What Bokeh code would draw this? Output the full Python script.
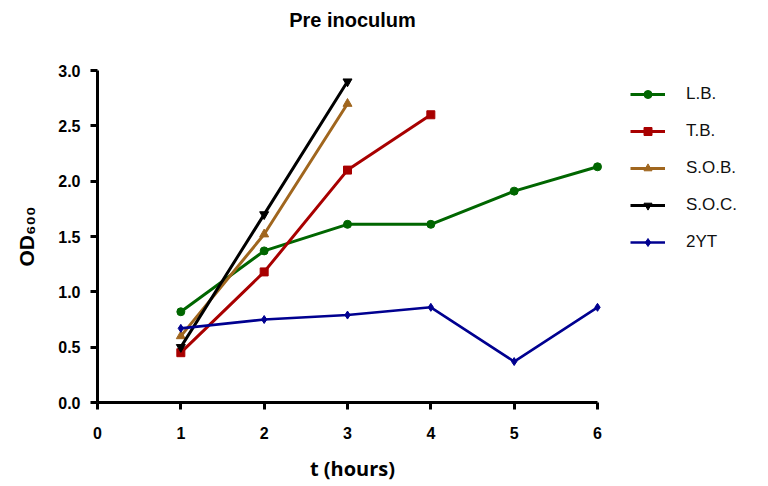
from bokeh.plotting import figure
from bokeh.models import Range1d, Legend, LegendItem, CustomJSTickFormatter, Title
from bokeh.embed import file_html
from bokeh.resources import INLINE

# Data
lb_x = [1, 2, 3, 4, 5, 6]
lb_y = [0.82, 1.37, 1.61, 1.61, 1.91, 2.13]
tb_x = [1, 2, 3, 4]
tb_y = [0.45, 1.18, 2.10, 2.60]
sob_x = [1, 2, 3]
sob_y = [0.60, 1.52, 2.70]
soc_x = [1, 2, 3]
soc_y = [0.50, 1.70, 2.90]
yt_x = [1, 2, 3, 4, 5, 6]
yt_y = [0.67, 0.75, 0.79, 0.86, 0.37, 0.86]
x_ticks = [0, 1, 2, 3, 4, 5, 6]
y_ticks = [0.0, 0.5, 1.0, 1.5, 2.0, 2.5, 3.0]

p = figure(frame_width=510, frame_height=332, output_backend="svg", toolbar_location=None,
           x_range=Range1d(0, 6.12), y_range=Range1d(0, 3.0),
           min_border_left=97, min_border_right=145, min_border_top=70, min_border_bottom=68,
           title="Pre inoculum")
p.outline_line_color = None
p.xgrid.visible = False
p.ygrid.visible = False
p.title.align = "center"
p.title.vertical_align = "middle"
p.title.text_font = "Liberation Sans"
p.title.text_font_size = "20px"
p.title.text_font_style = "bold"
p.title.text_color = "black"
p.title.offset = 0
p.title.standoff = 0

# empty spacer between title and plot area
spacer = Title(text=" ", text_font_size="19px", standoff=16)
p.above.insert(0, spacer)

for ax in (p.xaxis[0], p.yaxis[0]):
    ax.axis_line_width = 3
    ax.major_tick_line_width = 3
    ax.major_tick_out = 7
    ax.major_tick_in = 0
    ax.minor_tick_line_color = None
    ax.major_label_text_font = "Liberation Sans"
    ax.major_label_text_font_style = "bold"
    ax.major_label_text_font_size = "16px"
    ax.major_label_text_color = "black"
    ax.axis_line_color = "black"
    ax.major_tick_line_color = "black"
    ax.axis_label_text_color = "black"

p.xaxis.ticker = x_ticks
p.xaxis.bounds = (0, 6)
p.xaxis.major_label_standoff = 17
p.xaxis.axis_label = "t (hours)"
p.xaxis.axis_label_text_font = "Open Sans"
p.xaxis.axis_label_text_font_style = "bold"
p.xaxis.axis_label_text_font_size = "20px"
p.xaxis.axis_label_standoff = 13

p.yaxis.ticker = y_ticks
p.yaxis.formatter = CustomJSTickFormatter(code="return tick.toFixed(1);")
p.yaxis.major_label_standoff = 10
p.yaxis.axis_label = "OD₆₀₀"
p.yaxis.axis_label_text_font = "Liberation Sans"
p.yaxis.axis_label_text_font_style = "bold"
p.yaxis.axis_label_text_font_size = "21px"
p.yaxis.axis_label_standoff = 17

series = [
    ("L.B.", lb_x, lb_y, "#006600", "circle", 8, 3),
    ("T.B.", tb_x, tb_y, "#a80000", "square", 8, 3),
    ("S.O.B.", sob_x, sob_y, "#a0661e", "triangle", 9, 3),
    ("S.O.C.", soc_x, soc_y, "#000000", "inverted_triangle", 9, 3),
    ("2YT", yt_x, yt_y, "#000090", "diamond", 8, 2.6),
]

items = []
for name, xs, ys, col, mk, sz, lw in series:
    r1 = p.line(xs, ys, line_color=col, line_width=lw)
    r2 = p.scatter(xs, ys, marker=mk, size=sz, fill_color=col, line_color=col)
    items.append(LegendItem(label=name, renderers=[r1, r2]))

legend = Legend(items=items, location=(23, 150), padding=0, margin=0,
                border_line_color=None, background_fill_alpha=0,
                glyph_width=35, glyph_height=20, label_height=20,
                label_standoff=21, spacing=17, label_text_color="#111111",
                label_text_font="Liberation Sans", label_text_font_size="17px")
p.add_layout(legend, "right")

open("out.html", "w").write(file_html(p, INLINE))
